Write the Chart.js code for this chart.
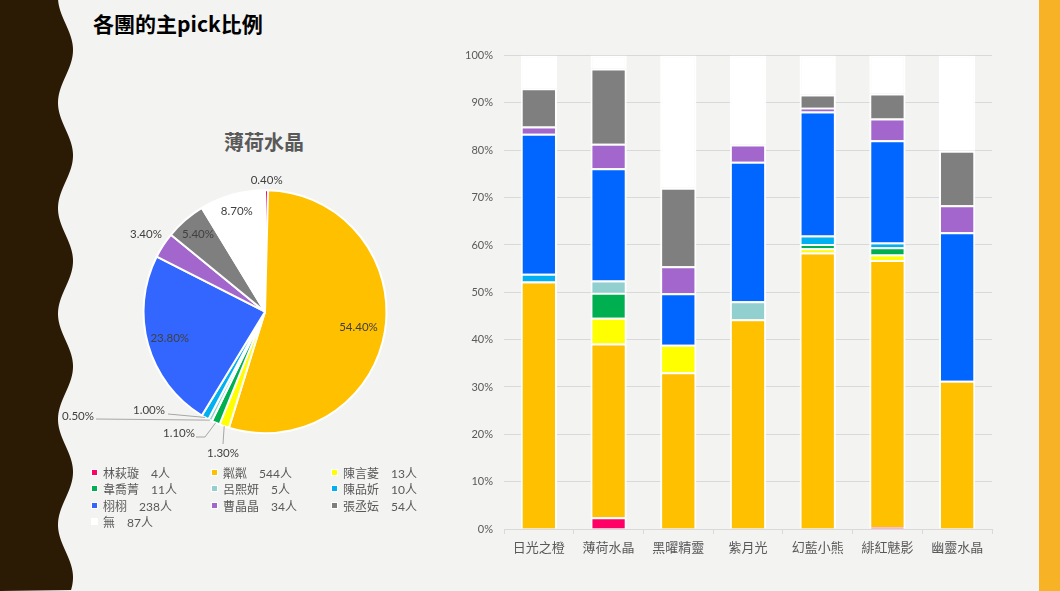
<!DOCTYPE html>
<html><head><meta charset="utf-8">
<script src="https://cdn.jsdelivr.net/npm/chart.js@4.4.0/dist/chart.umd.min.js"></script>
<style>
html,body{margin:0;padding:0;background:#f3f3f2;width:1060px;height:591px;overflow:hidden;}
body{position:relative;font-family:"Noto Sans CJK TC",sans-serif;}
#band{position:absolute;left:0;top:0;}
#rband{position:absolute;left:1039px;top:0;width:21px;height:591px;background:#f7b226;}
#title{position:absolute;left:93px;top:8px;font-size:21px;font-weight:bold;color:#000;line-height:30px;white-space:nowrap;}
#pieTitle{position:absolute;left:204px;width:120px;text-align:center;top:128px;font-size:20px;font-weight:bold;color:#595959;line-height:28px;}
#pieWrap{position:absolute;left:60px;top:120px;width:400px;height:350px;}
#barWrap{position:absolute;left:440px;top:38px;width:580px;height:532px;}
#legend{position:absolute;left:91px;top:464px;display:grid;grid-template-columns:120px 120px 120px;grid-auto-rows:16.5px;font-family:"Lato","Noto Sans CJK TC",sans-serif;font-size:12px;color:#595959;}
.li{display:flex;align-items:center;white-space:nowrap;}
.sw{width:5px;height:5px;border:1.5px solid #fff;margin-right:5px;flex:none;}
</style>
</head><body>
<svg id="band" width="90" height="591"></svg>
<div id="rband"></div>
<div id="title">各團的主pick比例</div>
<div id="pieTitle">薄荷水晶</div>
<div id="pieWrap"><canvas id="pie"></canvas></div>
<div id="legend"></div>
<div id="barWrap"><canvas id="bar"></canvas></div>
<script>
// ---------- data ----------
const memberNames = ['林萩璇','粼粼','陳言菱','韋喬菁','呂熙妍','陳品妡','栩栩','曹晶晶','張丞妘','無'];
const pieCounts   = [4, 544, 13, 11, 5, 10, 238, 34, 54, 87];
const pieTitle    = '薄荷水晶';

const groupCategories = ['日光之橙','薄荷水晶','黑曜精靈','紫月光','幻藍小熊','緋紅魅影','幽靈水晶'];
const linQiuXuan    = [0, 2.5, 0, 0, 0, 0.4, 0];
const linLin        = [52.3, 36.7, 33.1, 44.3, 58.4, 56.4, 31.3];
const chenYanLing   = [0, 5.4, 5.8, 0, 0.9, 1.2, 0];
const weiQiaoJing   = [0, 5.3, 0, 0, 0.9, 1.5, 0];
const lvXiYan       = [0, 2.6, 0, 3.8, 0, 0, 0];
const chenPinXin    = [1.6, 0, 0, 0, 1.8, 1.0, 0];
const xuXu          = [29.6, 23.7, 10.9, 29.5, 26.2, 21.6, 31.4];
const caoJingJing   = [1.5, 5.2, 5.7, 3.6, 0.8, 4.6, 5.7];
const zhangChengYun = [8.1, 15.9, 16.6, 0, 2.8, 5.3, 11.5];
const noPick        = [6.9, 2.7, 27.9, 18.8, 8.2, 8.0, 20.1];
const yTickValues   = [0,10,20,30,40,50,60,70,80,90,100];

// ---------- styles ----------
const pieColors = ['#ff0066','#ffc000','#ffff00','#00b050','#92d0d0','#00b0f0','#3366ff','#a366cc','#7f7f7f','#ffffff'];
const barColors = ['#ff0066','#ffc000','#ffff00','#00b050','#92d0d0','#00b0f0','#0066ff','#a366cc','#7f7f7f','#ffffff'];

// wavy left band
(function(){
  const svg=document.getElementById('band');
  let d='M0 0 ';
  for(let y=0;y<=591;y+=2){
    const x=65.5+7.5*Math.sin(2*Math.PI*(y-50)/105.5+Math.PI/2);
    d+='L'+x.toFixed(2)+' '+y+' ';
  }
  d+='L0 591 Z';
  svg.innerHTML='<path d="'+d+'" fill="#2b1b05"/>';
})();

document.getElementById('pieTitle').textContent=pieTitle;

// legend
(function(){
  const lg=document.getElementById('legend');
  memberNames.forEach((n,i)=>{
    const el=document.createElement('div'); el.className='li';
    el.innerHTML='<span class="sw" style="background:'+pieColors[i]+'"></span><span>'+n+'\u3000'+pieCounts[i]+'人</span>';
    lg.appendChild(el);
  });
})();

// pie label layout (relative to centre)
const pieLabelLayout = [
  {mode:'out'},
  {mode:'in', f:0.78},
  {mode:'lead', label:[-42,141.5], path:[[-42,132.3]]},
  {mode:'lead', label:[-86,121.3], path:[[-60,125.3],[-69,125.3]]},
  {mode:'lead', label:[-187,104.3], path:[[-169,107.3]]},
  {mode:'lead', label:[-116,98.3], path:[[-97,102.3]]},
  {mode:'in', f:0.815},
  {mode:'out'},
  {mode:'in', f:0.84},
  {mode:'in', f:0.86}
];

const pieLabels = {
  id:'pieLabels',
  afterDatasetsDraw(chart){
    const ctx=chart.ctx;
    const meta=chart.getDatasetMeta(0);
    const total=pieCounts.reduce((a,b)=>a+b,0);
    ctx.save();
    ctx.font='11.5px Lato, "Noto Sans", sans-serif';
    ctx.fillStyle='#404040';
    ctx.textBaseline='middle';
    meta.data.forEach((arc,i)=>{
      const p=arc.getProps(['x','y','startAngle','endAngle','outerRadius'],true);
      const mid=(p.startAngle+p.endAngle)/2;
      const dx=Math.cos(mid), dy=Math.sin(mid);
      const txt=(pieCounts[i]/total*100).toFixed(2)+'%';
      const L=pieLabelLayout[i];
      const w=ctx.measureText(txt).width;
      if(L.mode==='in'){
        ctx.textAlign='center';
        ctx.fillText(txt,p.x+dx*p.outerRadius*L.f,p.y+dy*p.outerRadius*L.f);
      } else if(L.mode==='out'){
        const d=p.outerRadius+4+Math.abs(dx)*w/2+Math.abs(dy)*6;
        ctx.textAlign='center';
        ctx.fillText(txt,p.x+dx*d,p.y+dy*d);
      } else {
        ctx.strokeStyle='#a6a6a6'; ctx.lineWidth=1;
        ctx.beginPath();
        ctx.moveTo(p.x+dx*p.outerRadius,p.y+dy*p.outerRadius);
        L.path.forEach(pt=>ctx.lineTo(p.x+pt[0],p.y+pt[1]));
        ctx.stroke();
        ctx.textAlign='center';
        ctx.fillText(txt,p.x+L.label[0],p.y+L.label[1]);
      }
    });
    ctx.restore();
  }
};

new Chart(document.getElementById('pie'),{
  type:'pie',
  data:{labels:memberNames,datasets:[{data:pieCounts,backgroundColor:pieColors,borderColor:'#ffffff',borderWidth:2,hoverBorderWidth:2,hoverOffset:0}]},
  options:{
    responsive:true,maintainAspectRatio:false,animation:false,
    layout:{padding:{left:82.5,right:72.5,top:69.2,bottom:35.8}},
    plugins:{legend:{display:false},title:{display:false},tooltip:{enabled:false}},
    events:[]
  },
  plugins:[pieLabels]
});

const seriesList=[linQiuXuan,linLin,chenYanLing,weiQiaoJing,lvXiYan,chenPinXin,xuXu,caoJingJing,zhangChengYun,noPick];
new Chart(document.getElementById('bar'),{
  type:'bar',
  data:{
    labels:groupCategories,
    datasets:seriesList.map((s,i)=>({label:memberNames[i],data:s,backgroundColor:barColors[i],borderColor:'#ffffff',borderWidth:2,barPercentage:0.52,categoryPercentage:1}))
  },
  options:{
    responsive:true,maintainAspectRatio:false,animation:false,events:[],
    layout:{padding:{left:0,right:28,top:11,bottom:0}},
    plugins:{legend:{display:false},tooltip:{enabled:false}},
    scales:{
      x:{stacked:true,
        grid:{drawOnChartArea:false,drawTicks:true,tickLength:5,color:'#d9d9d9'},
        border:{color:'#d9d9d9',width:1},
        ticks:{color:'#595959',font:{family:'"Noto Sans CJK TC"',size:13},padding:5,maxRotation:0},
        afterFit:s=>{s.height=41;}
      },
      y:{stacked:true,min:0,max:100,
        afterBuildTicks:s=>{s.ticks=yTickValues.map(v=>({value:v}));},
        grid:{color:'#d9d9d9',drawTicks:false},
        border:{display:false},
        ticks:{color:'#595959',font:{family:'Lato',size:11},padding:11,callback:v=>v+'%'},
        afterFit:s=>{s.width=64;}
      }
    }
  }
});
</script>
</body></html>
